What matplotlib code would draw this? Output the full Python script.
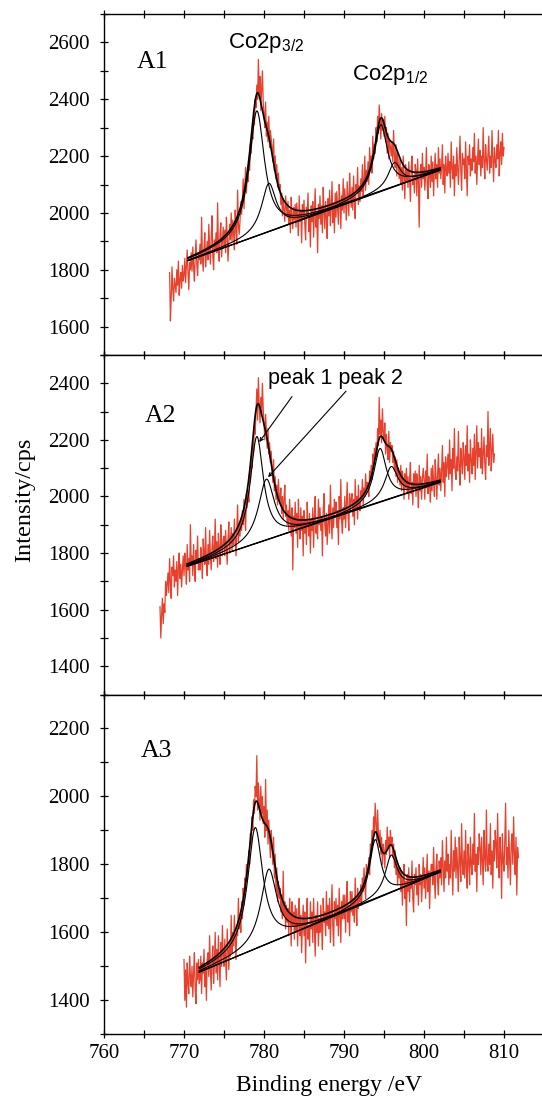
import numpy as np
import matplotlib
matplotlib.use("Agg")
import matplotlib.pyplot as plt
from matplotlib.ticker import MultipleLocator

plt.rcParams["font.family"] = ["Liberation Serif", "DejaVu Serif"]
plt.rcParams["mathtext.fontset"] = "custom"
plt.rcParams["mathtext.rm"] = "Liberation Sans"
plt.rcParams["mathtext.it"] = "Liberation Sans"

# ---- measured Co 2p spectra (counts per second), 0.1 eV steps ----
step_ev = 0.1
start_a1 = 768.2
start_a2 = 767.0
start_a3 = 770.0

counts_a1 = [
    1790, 1620, 1700, 1810, 1730, 1690, 1770, 1745,
    1720, 1800, 1745, 1830, 1710, 1765, 1790, 1735, 1815, 1760,
    1780, 1840, 1755, 1815, 1870, 1790, 1730, 1825, 1800, 1860,
    1795, 1880, 1810, 1760, 1850, 1905, 1820, 1780, 1860, 1835,
    1890, 1820, 1985, 1840, 1795, 1875, 1930, 1810, 1860, 1900,
    1835, 1960, 1880, 1820, 1915, 1990, 1850, 1800, 1905, 1870,
    1930, 1860, 2035, 1875, 1830, 1920, 1965, 1845, 1900, 1950,
    1880, 1940, 1860, 1985, 1920, 1830, 1895, 1960, 1905, 2000,
    1900, 1975, 1930, 1870, 2010, 1945, 1890, 2080, 1960, 1925,
    1970, 2040, 1995, 2050, 2120, 2015, 2090, 2160, 2070, 2140,
    2110, 2180, 2150, 2240, 2210, 2290, 2260, 2340, 2310, 2400,
    2370, 2450, 2400, 2540, 2420, 2480, 2360, 2430, 2500, 2390,
    2350, 2300, 2390, 2270, 2320, 2250, 2340, 2230, 2290, 2260,
    2230, 2180, 2260, 2150, 2200, 2120, 2170, 2090, 2140, 2080,
    2100, 2030, 2070, 1990, 2050, 2010, 1970, 2060, 2020, 1985,
    2040, 1960, 2010, 1930, 2055, 1990, 1945, 2020, 1975, 2030,
    1950, 2035, 1985, 1920, 2060, 1970, 2010, 1895, 2030, 1980,
    2045, 1960, 1905, 2020, 1985, 2070, 1935, 1990, 1880, 2025,
    1970, 2040, 1915, 2000, 2085, 1950, 1995, 1860, 2030, 1980,
    2060, 1960, 2025, 1930, 2090, 2005, 1945, 2040, 1985, 1910,
    2050, 1990, 2080, 1955, 2020, 2110, 1965, 2035, 1930, 2070,
    1985, 2075, 2020, 1960, 2100, 2040, 1945, 2060, 2010, 2120,
    2000, 2085, 2035, 1975, 2110, 2050, 1990, 2140, 2060, 2020,
    2090, 2010, 2130, 2045, 1980, 2100, 2070, 2160, 2030, 2095,
    2040, 2120, 2075, 2170, 2060, 2105, 2200, 2080, 2150, 2110,
    2180, 2100, 2230, 2150, 2200, 2140, 2270, 2190, 2240, 2210,
    2300, 2250, 2340, 2280, 2380, 2320, 2260, 2350, 2290, 2330,
    2270, 2340, 2250, 2300, 2210, 2280, 2190, 2260, 2230, 2200,
    2250, 2180, 2290, 2200, 2160, 2240, 2130, 2210, 2170, 2120,
    2190, 2100, 2160, 2080, 2200, 2130, 2050, 2170, 2110, 2150,
    2090, 2180, 2120, 2040, 2160, 2200, 2100, 2130, 2070, 2170,
    2150, 2060, 2190, 2110, 1950, 2140, 2170, 2090, 2210, 2120,
    2160, 2080, 2130, 2230, 2100, 2050, 2170, 2140, 2090, 2200,
    2110, 2180, 2060, 2150, 2210, 2120, 2170, 2090, 2230, 2140,
    2190, 2120, 2160, 2240, 2100, 2170, 2070, 2200, 2150, 2130,
    2210, 2140, 2180, 2090, 2250, 2160, 2120, 2200, 2060, 2170,
    2130, 2230, 2160, 2100, 2190, 2270, 2150, 2080, 2210, 2170,
    2190, 2120, 2250, 2160, 2060, 2200, 2170, 2240, 2130, 2190,
    2150, 2230, 2180, 2280, 2140, 2200, 2100, 2190, 2260, 2170,
    2220, 2130, 2200, 2160, 2300, 2180, 2120, 2240, 2190, 2150,
    2210, 2270, 2140, 2200, 2160, 2290, 2190, 2110, 2230, 2180,
    2160, 2240, 2190, 2290, 2130, 2210, 2250, 2170, 2280, 2200,
    2230,
]

counts_a2 = [
    1610, 1500, 1580, 1640, 1550, 1620, 1590, 1700, 1650, 1690,
    1730, 1660, 1780, 1700, 1640, 1750, 1720, 1790, 1680, 1740,
    1700, 1770, 1650, 1750, 1800, 1710, 1760, 1680, 1740, 1790,
    1720, 1800, 1760, 1690, 1830, 1740, 1780, 1700, 1900, 1760,
    1790, 1720, 1830, 1750, 1700, 1810, 1770, 1860, 1740, 1780,
    1740, 1820, 1780, 1710, 1850, 1800, 1760, 1890, 1770, 1720,
    1830, 1760, 1880, 1790, 1740, 1820, 1860, 1770, 1810, 1920,
    1780, 1840, 1750, 1870, 1810, 1760, 1900, 1830, 1790, 1850,
    1860, 1790, 1880, 1820, 1760, 1850, 1910, 1800, 1840, 1890,
    1810, 1870, 1830, 1920, 1850, 1790, 1880, 1970, 1840, 1900,
    1860, 1920, 1880, 1950, 1900, 1990, 1930, 1880, 2010, 1960,
    2020, 1980, 2090, 2050, 2140, 2100, 2190, 2160, 2250, 2220,
    2300, 2380, 2270, 2420, 2320, 2260, 2350, 2290, 2400, 2310,
    2260, 2200, 2290, 2230, 2170, 2240, 2150, 2190, 2120, 2160,
    2100, 2050, 2130, 2020, 2070, 1990, 2040, 1970, 2060, 2000,
    1980, 2030, 1940, 2000, 1920, 1990, 2040, 1930, 1970, 1900,
    1950, 1880, 1990, 1920, 1860, 1960, 1740, 1930, 1890, 1980,
    1870, 1940, 1820, 1990, 1900, 1850, 1960, 1880, 1930, 1790,
    1950, 1870, 1920, 1830, 1980, 1900, 1860, 1940, 1800, 1920,
    1880, 1960, 1820, 1930, 2000, 1870, 1910, 1850, 1990, 1900,
    1960, 1880, 1930, 1790, 1950, 2010, 1900, 1860, 1940, 1830,
    1900, 1970, 1870, 2040, 1920, 1850, 1960, 1890, 1990, 1940,
    1980, 1890, 1950, 1830, 2000, 1920, 2060, 1910, 1870, 1960,
    1920, 2000, 1890, 1970, 2050, 1940, 1880, 2010, 1950, 1990,
    2010, 1930, 1990, 1900, 2060, 1960, 2000, 1920, 2040, 1970,
    1950, 2020, 1990, 2060, 1970, 2030, 2000, 2080, 2010, 2050,
    2040, 2000, 2090, 2050, 2110, 2060, 2150, 2100, 2170, 2130,
    2190, 2140, 2240, 2180, 2350, 2220, 2270, 2190, 2310, 2230,
    2200, 2260, 2150, 2220, 2170, 2130, 2230, 2120, 2190, 2160,
    2180, 2120, 2160, 2090, 2140, 2070, 2130, 2050, 2100, 2080,
    2040, 2110, 2020, 2090, 2060, 1990, 2080, 2030, 2100, 2010,
    2070, 1990, 2060, 2120, 2010, 2050, 1970, 2080, 2030, 2090,
    2000, 2080, 2040, 1960, 2110, 2020, 2070, 1990, 2060, 2100,
    2060, 1990, 2090, 2030, 2150, 2010, 2070, 2040, 1980, 2100,
    2020, 2110, 2050, 2000, 2130, 2070, 1990, 2080, 2150, 2040,
    2100, 2020, 2090, 2180, 2050, 2120, 2000, 2140, 2070, 2110,
    2150, 2060, 2200, 2080, 2130, 2020, 2170, 2100, 2240, 2090,
    2060, 2140, 2090, 2230, 2110, 2040, 2170, 2120, 2080, 2190,
    2140, 2060, 2180, 2110, 2250, 2090, 2150, 2050, 2200, 2130,
    2080, 2170, 2110, 2220, 2060, 2150, 2250, 2100, 2190, 2140,
    2170, 2100, 2240, 2080, 2150, 2210, 2120, 2060, 2180, 2140,
    2300, 2110, 2180, 2240, 2090, 2160, 2220, 2120, 2150,
]

counts_a3 = [
    1520, 1400, 1490, 1380, 1510, 1450, 1420, 1530, 1470, 1440,
    1500, 1410, 1480, 1540, 1430, 1390, 1510, 1460, 1520, 1450,
    1460, 1530, 1420, 1510, 1480, 1550, 1440, 1500, 1400, 1520,
    1540, 1470, 1590, 1490, 1430, 1520, 1560, 1450, 1510, 1600,
    1480, 1550, 1460, 1590, 1510, 1440, 1570, 1500, 1620, 1530,
    1500, 1580, 1520, 1460, 1610, 1550, 1490, 1570, 1530, 1650,
    1540, 1600, 1560, 1650, 1580, 1520, 1620, 1590, 1700, 1610,
    1650, 1600, 1690, 1640, 1730, 1680, 1760, 1720, 1800, 1750,
    1790, 1840, 1800, 1890, 1860, 1940, 1900, 1990, 1950, 2030,
    2000, 2120, 1960, 2040, 1990, 1930, 2030, 1950, 2000, 1920,
    1970, 1880, 2050, 1900, 1960, 1860, 1930, 1870, 1820, 1900,
    1860, 1800, 1880, 1760, 1830, 1720, 1790, 1690, 1750, 1700,
    1730, 1660, 1710, 1640, 1780, 1650, 1690, 1610, 1680, 1630,
    1670, 1590, 1700, 1640, 1560, 1690, 1620, 1660, 1580, 1680,
    1600, 1670, 1560, 1640, 1700, 1590, 1650, 1540, 1620, 1680,
    1590, 1660, 1510, 1640, 1700, 1580, 1620, 1560, 1690, 1610,
    1660, 1570, 1700, 1620, 1530, 1650, 1600, 1690, 1560, 1640,
    1600, 1680, 1620, 1550, 1700, 1630, 1660, 1590, 1720, 1620,
    1680, 1610, 1700, 1570, 1660, 1740, 1620, 1560, 1690, 1640,
    1700, 1620, 1680, 1590, 1730, 1650, 1570, 1690, 1640, 1710,
    1640, 1710, 1600, 1690, 1750, 1630, 1680, 1590, 1720, 1660,
    1720, 1650, 1700, 1630, 1760, 1680, 1620, 1730, 1670, 1710,
    1690, 1740, 1680, 1760, 1720, 1790, 1740, 1700, 1800, 1770,
    1780, 1820, 1770, 1860, 1830, 1900, 1860, 1940, 1890, 1980,
    1920, 1870, 1960, 1890, 1850, 1900, 1830, 1880, 1800, 1860,
    1840, 1790, 1870, 1830, 1910, 1850, 1880, 1820, 1900, 1860,
    1880, 1820, 1860, 1790, 1840, 1770, 1810, 1740, 1790, 1760,
    1790, 1720, 1780, 1680, 1760, 1800, 1700, 1750, 1620, 1770,
    1720, 1790, 1690, 1760, 1730, 1810, 1700, 1660, 1770, 1740,
    1790, 1710, 1760, 1680, 1800, 1740, 1770, 1690, 1750, 1820,
    1730, 1790, 1700, 1760, 1830, 1720, 1780, 1670, 1760, 1800,
    1800, 1740, 1850, 1760, 1700, 1790, 1830, 1750, 1710, 1810,
    1760, 1820, 1740, 1870, 1790, 1720, 1810, 1760, 1880, 1780,
    1830, 1740, 1800, 1760, 1900, 1790, 1710, 1840, 1780, 1880,
    1760, 1850, 1790, 1720, 1880, 1810, 1750, 1920, 1800, 1770,
    1840, 1760, 1900, 1790, 1730, 1860, 1810, 1740, 1880, 1800,
    1770, 1860, 1800, 1950, 1780, 1830, 1720, 1850, 1800, 1890,
    1850, 1770, 1880, 1810, 1740, 1900, 1820, 1780, 1960, 1800,
    1780, 1860, 1800, 1920, 1770, 1840, 1730, 1870, 1810, 1900,
    1860, 1790, 1950, 1820, 1760, 1880, 1830, 1700, 1890, 1810,
    1780, 1870, 1980, 1800, 1850, 1760, 1900, 1820, 1740, 1860,
    1890, 1800, 1940, 1830, 1770, 1880, 1710, 1850, 1820,
]

# ---- peak fit results: linear background and Lorentzian components ----
bg_ev_a1, bg_cps_a1 = [770.5, 802.0], [1832, 2150]
bg_ev_a2, bg_cps_a2 = [770.4, 802.0], [1753, 2050]
bg_ev_a3, bg_cps_a3 = [771.9, 802.0], [1483, 1777]

centers_a1 = [779.1, 780.6, 794.6, 796.3]
heights_a1 = [440, 170, 235, 85]
fwhm_a1 = [2.3, 2.2, 2.0, 1.9]

centers_a2 = [779.1, 780.3, 794.5, 795.9]
heights_a2 = [377, 215, 190, 113]
fwhm_a2 = [2.0, 2.4, 1.9, 2.0]

centers_a3 = [778.9, 780.6, 793.9, 795.9]
heights_a3 = [357, 218, 175, 110]
fwhm_a3 = [2.3, 2.4, 1.7, 1.8]

panel_names = ["A1", "A2", "A3"]
panel_ylims = [(1500, 2700), (1300, 2500), (1300, 2300)]
panel_yticks = [
    [1600, 1800, 2000, 2200, 2400, 2600],
    [1400, 1600, 1800, 2000, 2200, 2400],
    [1400, 1600, 1800, 2000, 2200],
]
x_ticks = [760, 770, 780, 790, 800, 810]

RED = "#e5412d"
SANS = ["Liberation Sans", "DejaVu Sans"]


def lorentz(x, c, h, w):
    g = w / 2.0
    return h / (1.0 + ((x - c) / g) ** 2)


fig = plt.figure(figsize=(5.42, 10.98), dpi=100)
W, H = 542.0, 1098.0
left = 104 / W
width = 438 / W
boxes = [(14, 355), (355, 694.5), (694.5, 1034.3)]

spectra = [
    (start_a1, counts_a1, bg_ev_a1, bg_cps_a1, centers_a1, heights_a1, fwhm_a1),
    (start_a2, counts_a2, bg_ev_a2, bg_cps_a2, centers_a2, heights_a2, fwhm_a2),
    (start_a3, counts_a3, bg_ev_a3, bg_cps_a3, centers_a3, heights_a3, fwhm_a3),
]
name_pos = [(0.075, 0.842), (0.094, 0.8025), (0.084, 0.816)]

axes = []
for i, (top, bot) in enumerate(boxes):
    ax = fig.add_axes([left, 1 - bot / H, width, (bot - top) / H])
    axes.append(ax)
    start, counts, bgx, bgy, cen, hgt, fw = spectra[i]

    energy = start + step_ev * np.arange(len(counts))
    ax.plot(energy, counts, color=RED, lw=0.9, zorder=2)

    # fitted envelope, components and background over the fit window
    xf = np.linspace(bgx[0], bgx[1], 600)
    bg = np.interp(xf, bgx, bgy)
    total = bg.copy()
    for c, h, w in zip(cen, hgt, fw):
        comp = lorentz(xf, c, h, w)
        total += comp
        ax.plot(xf, bg + comp, color="black", lw=0.8, zorder=3)
    ax.plot(xf, total, color="black", lw=1.2, zorder=4)
    ax.plot(bgx, bgy, color="black", lw=0.8, zorder=3)

    ax.set_xlim(760, 760 + 438 / 8.0)
    ax.set_ylim(*panel_ylims[i])
    ax.set_yticks(panel_yticks[i])
    ax.yaxis.set_minor_locator(MultipleLocator(100))
    ax.set_xticks(x_ticks)
    ax.xaxis.set_minor_locator(MultipleLocator(5))
    ax.tick_params(which="both", direction="inout", length=6, width=0.9,
                   top=True, bottom=True, left=True, right=False,
                   labelsize=15)
    ax.tick_params(axis="y", pad=7)
    ax.tick_params(axis="x", pad=4)
    ax.spines["right"].set_visible(False)
    for s in ("left", "top", "bottom"):
        ax.spines[s].set_linewidth(1.0)
    if i < 2:
        ax.tick_params(labelbottom=False)
    ax.text(*name_pos[i], panel_names[i], transform=ax.transAxes,
            fontsize=18.5, ha="left", va="baseline")

ax1, ax2, ax3 = axes
ax1.text(775.5, 2582, r"Co2p$_{3/2}$", fontsize=16, family=SANS,
         ha="left", va="baseline")
ax1.text(791.0, 2469, r"Co2p$_{1/2}$", fontsize=16, family=SANS,
         ha="left", va="baseline")

ax2.text(780.5, 2398, "peak 1 peak 2", fontsize=15.5, family=SANS,
         ha="left", va="baseline")
arrow = dict(arrowstyle="->,head_length=0.25,head_width=0.12", lw=0.8,
             color="black", shrinkA=0, shrinkB=0)
ax2.annotate("", xy=(779.4, 2192), xytext=(783.5, 2353), arrowprops=arrow)
ax2.annotate("", xy=(780.5, 2068), xytext=(790.25, 2372), arrowprops=arrow)

fig.text(25 / W, 1 - 500 / H, "Intensity/cps", rotation=90, fontsize=17.5,
         ha="center", va="center")
fig.text(329 / W, 1 - 1085 / H, "Binding energy /eV", fontsize=17,
         ha="center", va="center")

fig.savefig("out.png", dpi=100)
